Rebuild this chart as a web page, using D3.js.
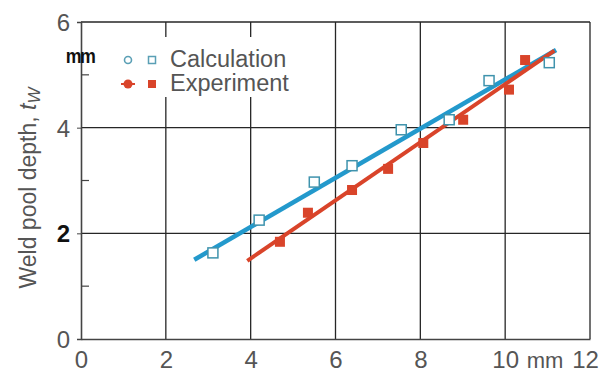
<!DOCTYPE html>
<html>
<head>
<meta charset="utf-8">
<script src="https://cdn.jsdelivr.net/npm/d3@7/dist/d3.min.js"></script>
<style>
  html, body { margin: 0; padding: 0; background: #fff; }
  svg { display: block; }
  text { font-family: "Liberation Sans", Arial, sans-serif; }
</style>
</head>
<body>
<svg id="chart" width="603" height="377"></svg>
<script>
// Weld pool depth vs. distance: calculated and measured values with linear fits
const xTickValues = [0, 2, 4, 6, 8, 10, 12];
const xTickLabels = ["0", "2", "4", "6", "8", "10", "12"];
const yTickValues = [0, 2, 4, 6];
const yTickLabels = ["0", "2", "4", "6"];
const yMinorTicks = [1, 3, 5];

const calcX = [3.11, 4.20, 5.50, 6.39, 7.55, 8.68, 9.62, 11.04];
const calcY = [1.63, 2.25, 2.97, 3.28, 3.96, 4.15, 4.89, 5.23];
const expX = [4.69, 5.35, 6.39, 7.24, 8.07, 9.01, 10.09, 10.47];
const expY = [1.84, 2.39, 2.82, 3.22, 3.71, 4.15, 4.72, 5.28];

const calcFitX = [2.67, 11.20];
const calcFitY = [1.50, 5.47];
const expFitX = [3.92, 11.16];
const expFitY = [1.48, 5.46];

const legendLabels = ["Calculation", "Experiment"];

const colCalcLine = "#2399cc";
const colCalcMark = "#3f93ad";
const colExp = "#d9442a";
const gridCol = "#262626";
const labelCol = "#555";

const svg = d3.select("#chart");
const x = d3.scaleLinear().domain([0, 12]).range([81, 590]);
const y = d3.scaleLinear().domain([0, 6]).range([339, 22]);

// grid
const grid = svg.append("g");
grid.selectAll("line.v").data(xTickValues.slice(1)).join("line")
  .attr("x1", d => x(d)).attr("x2", d => x(d))
  .attr("y1", y(6)).attr("y2", y(0))
  .attr("stroke", gridCol).attr("stroke-width", 1.3);
grid.selectAll("line.h").data(yTickValues.slice(1)).join("line")
  .attr("x1", x(0)).attr("x2", x(12))
  .attr("y1", d => y(d)).attr("y2", d => y(d))
  .attr("stroke", gridCol).attr("stroke-width", 1.3);

// axes
const xAxis = d3.axisBottom(x).tickValues(xTickValues).tickSize(0)
  .tickFormat((d, i) => xTickLabels[i]);
const gx = svg.append("g").attr("transform", `translate(0,${y(0)})`).call(xAxis);
gx.select(".domain").attr("stroke", "#444").attr("stroke-width", 1.6);
gx.selectAll(".tick text").attr("fill", labelCol).attr("font-size", 24)
  .attr("y", 29).attr("dy", 0)
  .attr("dx", d => d === 12 ? -5 : 0);

const yAxis = d3.axisLeft(y).tickValues(yTickValues).tickSize(4)
  .tickFormat((d, i) => yTickLabels[i]);
const gy = svg.append("g").attr("transform", `translate(${x(0)},0)`).call(yAxis);
gy.select(".domain").attr("stroke", "#444").attr("stroke-width", 1.6);
gy.selectAll(".tick line").attr("stroke", "#444");
gy.selectAll(".tick text").attr("fill", d => d === 2 ? "#111" : labelCol)
  .attr("font-weight", d => d === 2 ? "bold" : "normal")
  .attr("font-size", 24).attr("x", -11).attr("dy", "0.36em");

// minor ticks inside the left axis
svg.append("g").selectAll("line").data(yMinorTicks).join("line")
  .attr("x1", x(0)).attr("x2", x(0) + 8)
  .attr("y1", d => y(d)).attr("y2", d => y(d))
  .attr("stroke", "#444").attr("stroke-width", 1.2);

// unit label on the x axis
svg.append("text").attr("x", 545).attr("y", y(0) + 29)
  .attr("text-anchor", "middle").attr("fill", labelCol).attr("font-size", 22).text("mm");

// legend box (covers grid)
svg.append("rect").attr("x", 100).attr("y", 37).attr("width", 200).attr("height", 60).attr("fill", "#fff");

// unit label on the y axis
svg.append("text").attr("transform", "translate(80,63) scale(0.85,1)")
  .attr("text-anchor", "middle")
  .attr("fill", "#111").attr("font-weight", "bold").attr("font-size", 21)
  .attr("letter-spacing", -2).text("mm");

// y axis title
const yt = svg.append("text")
  .attr("transform", `translate(36,188) rotate(-90)`)
  .attr("text-anchor", "middle").attr("fill", labelCol).attr("font-size", 23);
yt.append("tspan").text("Weld pool depth, ");
yt.append("tspan").attr("font-style", "italic").text("t");
yt.append("tspan").attr("font-style", "italic").attr("font-size", 17).attr("dy", 4).text("W");

// fit lines
const line = d3.line().x(d => x(d[0])).y(d => y(d[1]));
svg.append("path").datum(calcFitX.map((v, i) => [v, calcFitY[i]]))
  .attr("d", line).attr("stroke", colCalcLine).attr("stroke-width", 4.5).attr("fill", "none");
svg.append("path").datum(expFitX.map((v, i) => [v, expFitY[i]]))
  .attr("d", line).attr("stroke", colExp).attr("stroke-width", 4).attr("fill", "none");

// experiment markers
svg.append("g").selectAll("rect").data(expX.map((v, i) => [v, expY[i]])).join("rect")
  .attr("x", d => x(d[0]) - 5).attr("y", d => y(d[1]) - 5)
  .attr("width", 10).attr("height", 10).attr("fill", colExp);

// calculation markers
svg.append("g").selectAll("rect").data(calcX.map((v, i) => [v, calcY[i]])).join("rect")
  .attr("x", d => x(d[0]) - 5).attr("y", d => y(d[1]) - 5)
  .attr("width", 10).attr("height", 10).attr("fill", "#fff")
  .attr("stroke", colCalcMark).attr("stroke-width", 1.5);

// legend entries
const lg = svg.append("g");
lg.append("circle").attr("cx", 128).attr("cy", 60).attr("r", 3.5)
  .attr("fill", "#fff").attr("stroke", "#5a9fb5").attr("stroke-width", 1.6);
lg.append("rect").attr("x", 148.5).attr("y", 56.5).attr("width", 7).attr("height", 7)
  .attr("fill", "#fff").attr("stroke", "#5a9fb5").attr("stroke-width", 1.5);
lg.append("line").attr("x1", 121).attr("x2", 135).attr("y1", 84).attr("y2", 84)
  .attr("stroke", colExp).attr("stroke-width", 2);
lg.append("circle").attr("cx", 128).attr("cy", 84).attr("r", 4.5).attr("fill", colExp);
lg.append("rect").attr("x", 148).attr("y", 80).attr("width", 8).attr("height", 8).attr("fill", colExp);
lg.selectAll("text").data(legendLabels).join("text")
  .attr("x", 170).attr("y", (d, i) => 67 + i * 24)
  .attr("fill", labelCol).attr("font-size", 23.5).text(d => d);
</script>
</body>
</html>
